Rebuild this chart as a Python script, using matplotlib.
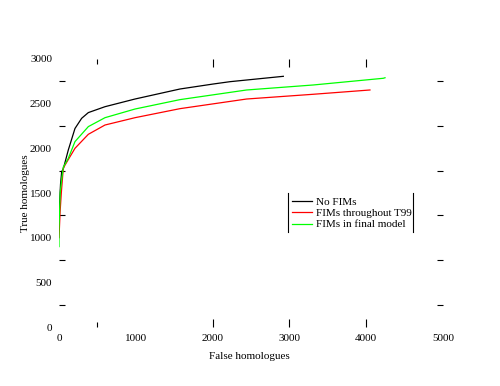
import numpy as np
import matplotlib
matplotlib.use('Agg')
import matplotlib.pyplot as plt
from matplotlib.lines import Line2D

plt.rcParams['font.family'] = ['Liberation Serif', 'DejaVu Serif']
plt.rcParams['font.size'] = 8

# curves
no_fims_x = [0, 20, 35, 56, 121, 208, 295, 382, 599, 990, 1575, 2009, 2227, 2921]
no_fims_y = [1250, 1600, 1739, 1770, 1981, 2222, 2336, 2400, 2466, 2552, 2664, 2720, 2746, 2806]
t99_x = [0, 5, 15, 30, 56, 143, 208, 382, 599, 990, 1575, 2443, 3311, 4049]
t99_y = [1000, 1100, 1300, 1500, 1780, 1906, 2000, 2157, 2261, 2343, 2444, 2552, 2605, 2653]
final_x = [0, 0, 15, 35, 56, 121, 208, 382, 599, 990, 1575, 2443, 3311, 4223, 4245]
final_y = [900, 1100, 1500, 1650, 1790, 1888, 2075, 2243, 2343, 2440, 2545, 2653, 2709, 2784, 2790]

xticks = [0, 1000, 2000, 3000, 4000, 5000]
yticks = [0, 500, 1000, 1500, 2000, 2500, 3000]

fig = plt.figure(figsize=(5, 3.86), dpi=100)
ax = fig.add_axes([0.118, 0.1528, 0.768, 0.6944])

ax.plot(no_fims_x, no_fims_y, color='black', lw=0.9, label='No FIMs')
ax.plot(t99_x, t99_y, color='#ff0000', lw=0.9, label='FIMs throughout T99')
ax.plot(final_x, final_y, color='#00ff00', lw=0.9, label='FIMs in final model')

ax.set_xlim(0, 5000)
ax.set_ylim(0, 3000)
for s in ax.spines.values():
    s.set_visible(False)

ax.xaxis.remove_overlapping_locs = False
ax.yaxis.remove_overlapping_locs = False
ax.set_xticks(xticks)
ax.set_yticks(yticks)
ax.tick_params(axis='both', which='major', length=0)
ax.tick_params(axis='x', pad=5)
ax.tick_params(axis='y', pad=5)
ax.set_xticks([500, 2000, 3000, 4000], minor=True)
ax.set_yticks([250, 750, 1250, 1750, 2250, 2750], minor=True)
ax.tick_params(axis='x', which='minor', direction='in', length=6, width=0.8,
               top=True, bottom=True)
ax.tick_params(axis='y', which='minor', direction='in', length=4, width=0.8,
               left=True, right=True)
# the 500 mark is shorter
t0 = ax.xaxis.get_minor_ticks()[0]
t0.tick1line.set_markersize(3.5)
t0.tick2line.set_markersize(3.5)

ax.set_xlabel('False homologues')
ax.set_ylabel('True homologues')
ax.xaxis.set_label_coords(0.497, -0.095)
ax.yaxis.set_label_coords(-0.075, 0.5)

leg = ax.legend(frameon=False, loc='upper left', bbox_to_anchor=(0.595, 0.50),
                handlelength=1.8, handletextpad=0.4, labelspacing=0.12,
                borderaxespad=0)
for xf in [0.576, 0.826]:
    fig.add_artist(Line2D([xf, xf], [0.399, 0.5], color='black', lw=0.8))

fig.savefig('out.png', dpi=100)
